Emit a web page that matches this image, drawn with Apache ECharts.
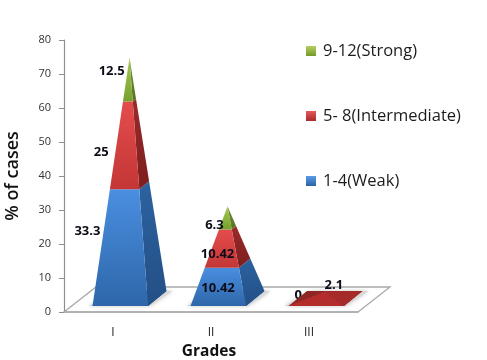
<!DOCTYPE html>
<html>
<head>
<meta charset="utf-8">
<style>html,body{margin:0;padding:0;background:#fff}#c{width:487px;height:360px}</style>
<script src="https://cdn.jsdelivr.net/npm/echarts@6/dist/echarts.min.js"></script>
</head>
<body>
<div id="c"></div>
<script>
// ---- data ----
const categories = ['I', 'II', 'III'];
const weak = [33.3, 10.42, 0];
const intermediate = [25, 10.42, 2.1];
const strong = [12.5, 6.3, null];
const seriesNames = ['1-4(Weak)', '5- 8(Intermediate)', '9-12(Strong)'];
const yTicks = { min: 0, max: 80, interval: 10 };

// ---- layout of the pseudo-3D projection (pixels) ----
const DEPTH = { cx: 16.5, cy: -13.5, halfW: 37, frontHalf: 18.5, frontY: -6, backY: -21 };
const FLOOR = { dx: 32, dy: -25 };
// nudge of each value label from the segment's mid point [series][category]
const labelNudge = [
  [[-35, -16], [-2, 1], [-18, -11]],
  [[-25, 7], [-6, 6], [13, -13]],
  [[-17, -8], [-12, 7], [0, 0]]
];
const G = (a, b) => new echarts.graphic.LinearGradient(0, 0, 0, 1, [{ offset: 0, color: a }, { offset: 1, color: b }]);
const palette = [
  { front: ['#4a8fe0', '#2e66a9'], side: ['#2c62a0', '#234f85'], marker: ['#5a9ce6', '#2a62a6'] },
  { front: ['#e44c4c', '#c43636'], side: ['#9a2a2a', '#7d1e1e'], marker: ['#e65a5a', '#a82a2a'] },
  { front: ['#a9c955', '#76a02e'], side: ['#6f8f2c', '#587522'], marker: ['#b5d060', '#76982c'] }
];
const FLAT_PX = 20;
const flatColors = { base: '#8e2626', front: '#b32d2d', side: '#a52a2a' };

const stacks = [weak, intermediate, strong];
const totals = categories.map((_, i) => stacks.reduce((s, a) => s + (a[i] || 0), 0));

function lerp(p, q, t) { return [p[0] + (q[0] - p[0]) * t, p[1] + (q[1] - p[1]) * t]; }

function pyramid(api, c, total) {
  const base = api.coord([c, 0]);
  const top = api.coord([c, total]);
  const cx = base[0] + DEPTH.cx;
  return {
    fl: [cx - DEPTH.halfW, base[1] + DEPTH.frontY],
    fr: [cx + DEPTH.frontHalf, base[1] + DEPTH.frontY],
    br: [cx + DEPTH.halfW, base[1] + DEPTH.backY],
    bl: [cx - DEPTH.frontHalf, base[1] + DEPTH.backY],
    apex: [cx, top[1] + DEPTH.cy],
    height: base[1] - top[1]
  };
}

function segmentRender(sIdx) {
  return function (params, api) {
    const c = api.value(0), lo = api.value(1), hi = api.value(2), total = api.value(3), v = api.value(4);
    const p = pyramid(api, c, total);
    const t0 = lo / total, t1 = hi / total;
    const pal = palette[sIdx];
    const flat = p.height < FLAT_PX;
    const children = [];
    if (hi > lo) {
      if (t0 === 0) {
        children.push({ type: 'polygon', shape: { points: [p.fl, p.fr, p.br, p.bl] }, style: { fill: flat ? flatColors.base : pal.side[0] } });
      }
      const e = (k) => [lerp(p[k], p.apex, t0), lerp(p[k], p.apex, t1)];
      const [fl0, fl1] = e('fl'), [fr0, fr1] = e('fr'), [br0, br1] = e('br');
      children.push({ type: 'polygon', shape: { points: [fr0, br0, br1, fr1] }, style: { fill: flat ? flatColors.side : G(pal.side[0], pal.side[1]) } });
      children.push({ type: 'polygon', shape: { points: [fl0, fr0, fr1, fl1] }, style: { fill: flat ? flatColors.front : G(pal.front[0], pal.front[1]) } });
    }
    const mid = (lo + hi) / 2;
    const a = lerp(p.fl, p.apex, mid / total);
    const b = lerp(p.fr, p.apex, mid / total);
    const n = labelNudge[sIdx][c];
    children.push({
      type: 'text', z2: 50,
      style: {
        x: (a[0] + b[0]) / 2 + n[0], y: a[1] + n[1], text: String(v), fill: '#0c0c18',
        font: 'bold 13px "Open Sans", sans-serif', align: 'center', verticalAlign: 'middle'
      }
    });
    return { type: 'group', children };
  };
}

function stackedRows(sIdx) {
  return categories.map((_, i) => {
    const v = stacks[sIdx][i];
    if (v === null) return [i, 0, 0, totals[i], '-'];
    let lo = 0;
    for (let k = 0; k < sIdx; k++) lo += stacks[k][i] || 0;
    return [i, lo, lo + v, totals[i], v];
  });
}

const series = [
  {
    type: 'custom', name: 'floor', silent: true, z: 1, data: [[0, 0]],
    encode: { x: 0, y: 1 },
    renderItem(params, api) {
      const cs = params.coordSys;
      const x = cs.x, y = cs.y + cs.height, w = cs.width;
      return {
        type: 'polyline',
        shape: { points: [[x, y], [x + FLOOR.dx, y + FLOOR.dy], [x + w + FLOOR.dx, y + FLOOR.dy], [x + w, y]] },
        style: { fill: 'none', stroke: '#a9a9a9', lineWidth: 1.3 }
      };
    }
  },
  {
    type: 'custom', name: 'shadow', silent: true, z: 2,
    data: categories.map((_, i) => [i, totals[i]]), encode: { x: 0, y: 1 },
    renderItem(params, api) {
      const p = pyramid(api, api.value(0), api.value(1));
      const s = (q, dx) => [q[0] + dx, q[1]];
      return {
        type: 'polygon',
        shape: { points: [s(p.fl, -4), s(p.fr, 2), s(p.br, 6), s(p.bl, 4)] },
        style: { fill: '#d8d8d8', shadowBlur: 4, shadowColor: '#c8c8c8' }
      };
    }
  }
].concat(seriesNames.map((name, sIdx) => ({
  type: 'custom', name, z: 3 + sIdx,
  itemStyle: { color: G(palette[sIdx].marker[0], palette[sIdx].marker[1]) },
  data: stackedRows(sIdx).filter(r => r[4] !== '-'),
  encode: { x: 0, y: 2 },
  renderItem: segmentRender(sIdx)
})));

const chart = echarts.init(document.getElementById('c'), null, { renderer: 'canvas' });
chart.setOption({
  animation: false,
  backgroundColor: '#fff',
  grid: { left: 64, top: 40, width: 294, height: 272, containLabel: false, outerBoundsMode: 'none' },
  legend: {
    orient: 'vertical', left: 301, top: 35, itemWidth: 10, itemHeight: 10, itemGap: 43,
    icon: 'rect', selectedMode: false,
    data: [seriesNames[2], seriesNames[1], seriesNames[0]],
    textStyle: { fontFamily: 'Open Sans', fontSize: 16.5, color: '#1c1c1c', lineHeight: 22, padding: [0, 0, 0, 2] }
  },
  xAxis: {
    type: 'category', data: categories, boundaryGap: true,
    axisLine: { lineStyle: { color: '#999', width: 1.5 } }, axisTick: { show: false },
    axisLabel: { margin: 15, fontFamily: 'Open Sans', fontSize: 12, color: '#222' },
    name: 'Grades', nameLocation: 'middle', nameGap: 26,
    nameTextStyle: { fontFamily: 'Open Sans', fontWeight: 'bold', fontSize: 15.5, color: '#111', padding: [0, 4, 0, 0] }
  },
  yAxis: {
    type: 'value', min: yTicks.min, max: yTicks.max, interval: yTicks.interval,
    splitLine: { show: false },
    axisLine: { show: true, lineStyle: { color: '#8f8f8f', width: 1.2 } },
    axisTick: { show: true, length: 5, lineStyle: { color: '#8f8f8f' } },
    axisLabel: { margin: 13, fontFamily: 'Open Sans', fontSize: 11, color: '#333' },
    name: '% of cases', nameLocation: 'middle', nameGap: 42, nameRotate: 90,
    nameTextStyle: { fontFamily: 'Open Sans', fontSize: 18, fontWeight: 600, color: '#111' }
  },
  series
});
</script>
</body>
</html>
